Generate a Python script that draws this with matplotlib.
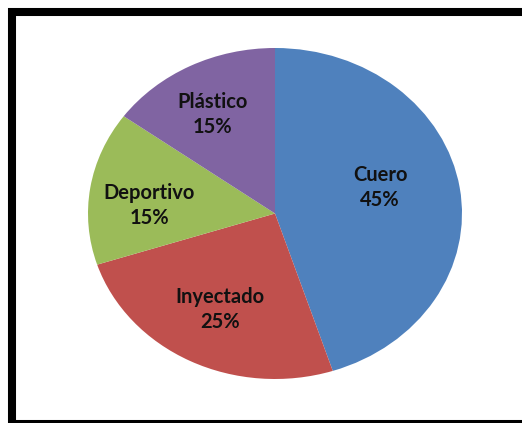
import numpy as np
import matplotlib
matplotlib.use('Agg')
import matplotlib.pyplot as plt
from matplotlib.patches import Rectangle

# chart data
categories = ['Cuero', 'Inyectado', 'Deportivo', 'Plástico']
shares = [45, 25, 15, 15]
colors = ['#4F81BD', '#C0504D', '#9BBB59', '#8064A2']

W, H = 522, 423
fig = plt.figure(figsize=(W / 100, H / 100), dpi=100)

# pie drawn in a non-square box -> slightly wide ellipse like the original
ax = fig.add_axes([88 / W, (H - 379) / H, 374 / W, 331 / H])
labels = ['%s\n%d%%' % (c, s) for c, s in zip(categories, shares)]
wedges, texts = ax.pie(shares, colors=colors, startangle=90, counterclock=False,
                       labels=labels, labeldistance=0.65,
                       wedgeprops={'linewidth': 0},
                       textprops={'fontsize': 14.5, 'fontweight': 'bold',
                                  'family': 'Lato', 'color': '#111111',
                                  'ha': 'center', 'va': 'center',
                                  'linespacing': 1.3})
ax.set_aspect('auto')
ax.set_xlim(-1, 1)
ax.set_ylim(-1, 1)
ax.axis('off')

# small nudges of the labels, Excel places them a bit differently
nudges = [(-0.08, 0.056), (0.0, 0.0), (-0.03, -0.055), (-0.037, 0.02)]
for t, (dx, dy) in zip(texts, nudges):
    x, y = t.get_position()
    t.set_position((x + dx, y + dy))

# thick black frame around the figure
frame = Rectangle((12 / W, -1 / H), 1.2, (H - 11) / H, transform=fig.transFigure,
                  fill=False, edgecolor='black', linewidth=5.8, clip_on=False)
fig.patches.append(frame)

fig.savefig('out.png', dpi=100)
